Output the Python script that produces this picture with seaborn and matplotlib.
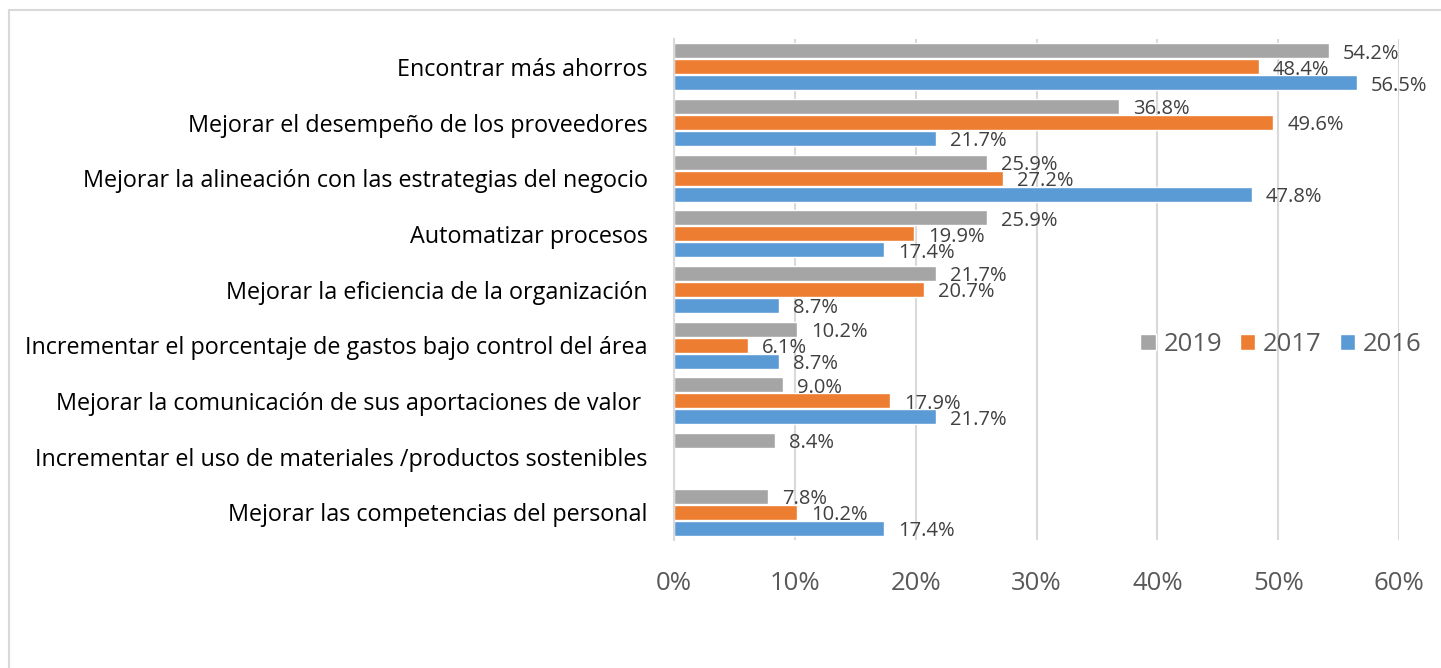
import matplotlib.pyplot as plt
import pandas as pd
import seaborn as sns
import numpy as np
from matplotlib.ticker import PercentFormatter, MultipleLocator
from matplotlib.lines import Line2D

# data (percent)
categories = [
    "Encontrar más ahorros",
    "Mejorar el desempeño de los proveedores",
    "Mejorar la alineación con las estrategias del negocio",
    "Automatizar procesos",
    "Mejorar la eficiencia de la organización",
    "Incrementar el porcentaje de gastos bajo control del área",
    "Mejorar la comunicación de sus aportaciones de valor ",
    "Incrementar el uso de materiales /productos sostenibles",
    "Mejorar las competencias del personal",
]
years = ["2019", "2017", "2016"]
vals_2019 = [54.2, 36.8, 25.9, 25.9, 21.7, 10.2, 9.0, 8.4, 7.8]
vals_2017 = [48.4, 49.6, 27.2, 19.9, 20.7, 6.1, 17.9, np.nan, 10.2]
vals_2016 = [56.5, 21.7, 47.8, 17.4, 8.7, 8.7, 21.7, np.nan, 17.4]
colors = ["#A5A5A5", "#ED7D31", "#5B9BD5"]

df = pd.DataFrame({
    "cat": categories * 3,
    "year": [years[0]] * 9 + [years[1]] * 9 + [years[2]] * 9,
    "val": vals_2019 + vals_2017 + vals_2016,
})

sns.set_style("white")
plt.rcParams['font.family'] = ['Open Sans', 'DejaVu Sans']

fig = plt.figure(figsize=(14.41, 6.68), dpi=100)
ax = fig.add_axes([0.4677, 0.1916, 0.5032, 0.75])

sns.barplot(data=df, x="val", y="cat", hue="year", order=categories,
            hue_order=years, palette=colors, width=0.86, gap=0.07,
            orient="h", ax=ax, saturation=1)

for cont in ax.containers:
    labels = ["" if np.isnan(v) else f"{v:.1f}%" for v in cont.datavalues]
    anns = ax.bar_label(cont, labels=labels, padding=10, fontsize=14.5, color="#404040")
    # excel puts the labels a touch below the bar centre
    for a in anns:
        a.xyann = (10, -2)

ax.set_xlim(0, 60)
ax.set_ylim(8.5, -0.5)
ax.xaxis.set_major_locator(MultipleLocator(10))
ax.xaxis.set_major_formatter(PercentFormatter(100, decimals=0))
ax.grid(axis="x", color="#D9D9D9", linewidth=1.5)
ax.set_axisbelow(True)
for s in ["top", "right", "bottom"]:
    ax.spines[s].set_visible(False)
ax.spines["left"].set_color("#D9D9D9")
ax.spines["left"].set_linewidth(1.5)
ax.tick_params(axis="y", length=0, pad=19, labelsize=16.8, labelcolor="black")
ax.tick_params(axis="x", length=0, pad=22, labelsize=18.5, labelcolor="#595959")
ax.set_xlabel("")
ax.set_ylabel("")

ax.legend(loc="center", bbox_to_anchor=(0.837, 0.39), ncol=3, frameon=False,
          fontsize=18.5, labelcolor="#595959", handlelength=0.6, handleheight=0.6,
          handletextpad=0.3, columnspacing=0.7)

# outer chart frame (only top and left edges visible)
fig.add_artist(Line2D([0.006, 1.0], [0.985, 0.985], color="#D9D9D9", lw=1.5))
fig.add_artist(Line2D([0.006, 0.006], [0.0, 0.985], color="#D9D9D9", lw=1.5))

fig.savefig("out.png", dpi=100)
